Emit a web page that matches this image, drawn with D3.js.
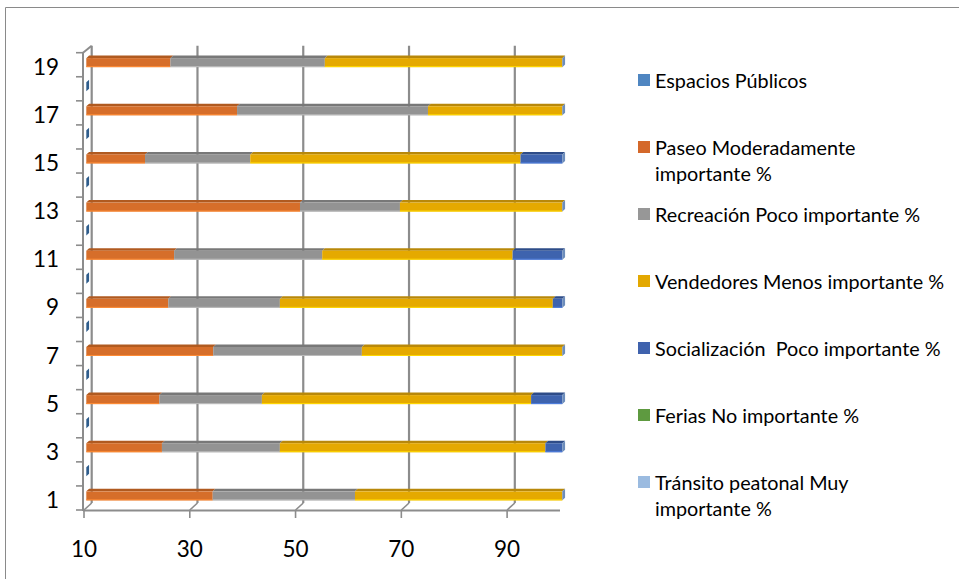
<!DOCTYPE html>
<html>
<head>
<meta charset="utf-8">
<script src="https://cdn.jsdelivr.net/npm/d3@7"></script>
<style>
  body { margin: 0; background: #fff; }
  svg { display: block; }
  text { font-family: Lato, "Open Sans", sans-serif; fill: #000; }
</style>
</head>
<body>
<svg id="chart" width="959" height="579"></svg>
<script>
// Categories 1..19 on the vertical axis; only odd ones are labelled
const categories = d3.range(1, 20);
const yTickLabels = [1, 3, 5, 7, 9, 11, 13, 15, 17, 19];
const xTickValues = [10, 30, 50, 70, 90];

// Series values per category (1..19), in stacking order
const seriesNames = [
  "Espacios Públicos",
  "Paseo Moderadamente importante %",
  "Recreación Poco importante %",
  "Vendedores Menos importante %",
  "Socialización  Poco importante %",
  "Ferias No importante %",
  "Tránsito peatonal Muy importante %"
];
const espacios      = [0, 5, 0, 5, 0, 5, 0, 5, 0, 5, 0, 5, 0, 5, 0, 5, 0, 5, 0];
const paseo         = [33.9, 0, 24.3, 0, 23.8, 0, 34.0, 0, 25.5, 0, 26.6, 0, 50.4, 0, 21.1, 0, 38.5, 0, 25.9];
const recreacion    = [26.9, 0, 22.3, 0, 19.4, 0, 28.1, 0, 21.1, 0, 28.0, 0, 18.9, 0, 19.9, 0, 36.1, 0, 29.2];
const vendedores    = [39.2, 0, 50.2, 0, 50.9, 0, 37.9, 0, 51.6, 0, 36.0, 0, 30.7, 0, 51.1, 0, 25.4, 0, 44.9];
const socializacion = [0, 0, 3.2, 0, 5.9, 0, 0, 0, 1.8, 0, 9.4, 0, 0, 0, 7.9, 0, 0, 0, 0];
const ferias        = [0, 0, 0, 0, 0, 0, 0, 0, 0, 0, 0, 0, 0, 0, 0, 0, 0, 0, 0];
const transito      = [0, 0, 0, 0, 0, 0, 0, 0, 0, 0, 0, 0, 0, 0, 0, 0, 0, 0, 0];
const seriesValues = [espacios, paseo, recreacion, vendedores, socializacion, ferias, transito];

const legendColors = ["#4f86c1", "#d4682a", "#979797", "#e3a801", "#3f62ad", "#5e9a40", "#9bbbe0"];
const faceColors   = ["#4a7fb8", "#d66e2a", "#939393", "#e5a900", "#3e63ae", "#5e9a40", "#9bbbe0"];
const topColors    = ["#355f8c", "#b05a20", "#787878", "#b8880a", "#2e4c88", "#477a2f", "#7494bc"];

const svg = d3.select("#chart");

// Chart frame
svg.append("path")
  .attr("d", "M5.5,579 V7.5 H959")
  .attr("fill", "none").attr("stroke", "#8a8a8a").attr("stroke-width", 1);

// Front-plane scales plus an oblique depth offset for the 3-D look
const x = d3.scaleLinear().domain([10, 100]).range([84, 560]);
const y = d3.scaleBand().domain(categories).range([510, 52.7]);
const depth = { dx: 7.7, dy: -7 };
const P = (px, py, d) => [px + d * depth.dx, py + d * depth.dy];

const axisColor = "#8c8c8c";
const plot = svg.append("g");

// Back-wall gridlines with floor stubs
xTickValues.forEach(v => {
  const [bx, by] = P(x(v), 510, 1);
  plot.append("line").attr("x1", bx).attr("x2", bx).attr("y1", by).attr("y2", P(x(v), 52.7, 1)[1])
    .attr("stroke", axisColor).attr("stroke-width", 2.2);
  plot.append("line").attr("x1", x(v)).attr("y1", 510).attr("x2", bx).attr("y2", by)
    .attr("stroke", axisColor).attr("stroke-width", 1.6);
});

// Left wall top edge and vertical axis
{
  const [tx, ty] = P(x(10), 52.7, 1);
  plot.append("line").attr("x1", x(10) - 1).attr("y1", 52.7).attr("x2", tx).attr("y2", ty)
    .attr("stroke", axisColor).attr("stroke-width", 2);
}
plot.append("line").attr("x1", x(10) - 1).attr("x2", x(10) - 1).attr("y1", 52.7).attr("y2", 511)
  .attr("stroke", axisColor).attr("stroke-width", 2);

// Category tick marks at band boundaries
const boundaries = categories.map(c => y(c) + y.bandwidth()).concat([y(19)]);
plot.selectAll(".ytick").data(boundaries).join("line")
  .attr("x1", x(10) - 8).attr("x2", x(10) - 1)
  .attr("y1", d => d).attr("y2", d => d)
  .attr("stroke", axisColor).attr("stroke-width", 1.6);

// Bottom axis line and ticks
plot.append("line").attr("x1", x(10) - 1).attr("x2", x(100)).attr("y1", 510.5).attr("y2", 510.5)
  .attr("stroke", axisColor).attr("stroke-width", 2);
plot.selectAll(".xtick").data(xTickValues).join("line")
  .attr("x1", d => x(d)).attr("x2", d => x(d)).attr("y1", 510).attr("y2", 518)
  .attr("stroke", axisColor).attr("stroke-width", 1.6);

// Stacked 3-D bars
const barHalf = 4.5, d0 = 0.3, d1 = 0.66;
const bars = svg.append("g");
categories.forEach((c, ci) => {
  const cy = y(c) + y.bandwidth() / 2;
  let acc = 0;
  let lastIdx = -1, endVal = 10;
  seriesValues.forEach((vals, si) => {
    const v = vals[ci];
    const a = Math.max(10, Math.min(100, acc));
    const b = Math.max(10, Math.min(100, acc + v));
    acc += v;
    if (v > 0) { lastIdx = si; endVal = b; }
    if (b <= a) return;
    const [fx0, fy0] = P(x(a), cy - barHalf, d0);
    const fx1 = P(x(b), cy - barHalf, d0)[0];
    const fy1 = P(x(a), cy + barHalf, d0)[1];
    const [bx0, by0] = P(x(a), cy - barHalf, d1);
    const bx1 = P(x(b), cy - barHalf, d1)[0];
    // top face
    bars.append("path")
      .attr("d", `M${fx0},${fy0} L${fx1},${fy0} L${bx1},${by0} L${bx0},${by0} Z`)
      .attr("fill", topColors[si]);
    // front face
    bars.append("rect")
      .attr("x", fx0).attr("y", fy0).attr("width", fx1 - fx0).attr("height", fy1 - fy0)
      .attr("fill", faceColors[si]);
    bars.append("rect")
      .attr("x", fx0).attr("y", fy1 - 1).attr("width", fx1 - fx0).attr("height", 1)
      .attr("fill", d3.color(faceColors[si]).brighter(0.7));
  });
  if (lastIdx < 0) return;
  // end face of the stack
  const [ex0, ey0] = P(x(endVal), cy - barHalf, d0);
  const ey1 = P(x(endVal), cy + barHalf, d0)[1];
  const [ex1, ey2] = P(x(endVal), cy - barHalf, d1);
  const ey3 = P(x(endVal), cy + barHalf, d1)[1];
  bars.append("path")
    .attr("d", `M${ex0},${ey0} L${ex1},${ey2} L${ex1},${ey3} L${ex0},${ey1} Z`)
    .attr("fill", lastIdx === 0 ? "#2f5d8c" : "#6d8dbb");
});

// Tick labels
svg.selectAll(".ylab").data(yTickLabels).join("text")
  .attr("x", 59).attr("y", d => y(d) + y.bandwidth() / 2 + 1.5)
  .attr("text-anchor", "end").attr("dominant-baseline", "central")
  .style("font-size", "22.5px").text(d => d);
svg.selectAll(".xlab").data(xTickValues).join("text")
  .attr("x", d => x(d)).attr("y", 557)
  .attr("text-anchor", "middle")
  .style("font-size", "22.5px").text(d => d);

// Legend
const legendLines = [
  ["Espacios Públicos"],
  ["Paseo Moderadamente", "importante %"],
  ["Recreación Poco importante %"],
  ["Vendedores Menos importante %"],
  ["Socialización  Poco importante %"],
  ["Ferias No importante %"],
  ["Tránsito peatonal Muy", "importante %"]
];
const legend = svg.append("g");
seriesNames.forEach((name, i) => {
  const ly = 80 + i * 67;
  legend.append("rect").attr("x", 638).attr("y", ly - 6).attr("width", 12).attr("height", 12)
    .attr("fill", legendColors[i]);
  legendLines[i].forEach((line, k) => {
    legend.append("text")
      .attr("x", 655).attr("y", ly + k * 26)
      .attr("dominant-baseline", "central")
      .attr("xml:space", "preserve").style("white-space", "pre")
      .style("font-size", "19.8px").text(line);
  });
});
</script>
</body>
</html>
